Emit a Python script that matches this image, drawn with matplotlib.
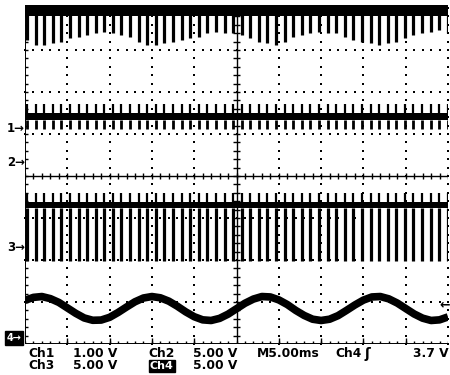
import matplotlib
matplotlib.use('Agg')
import matplotlib.pyplot as plt
import numpy as np

plt.rcParams['font.family'] = ['DejaVu Sans']

# screen is 10 div x 5.00 ms wide, 8 div high; values below are in ms / div
SPIKE_T0 = 0.24
SPIKE_PERIOD = 1.015

# bottom of each downward spike on the top trace (div)
TOP_DEPTH = [7.24, 7.12, 7.12, 7.17, 7.19, 7.29, 7.31, 7.36, 7.40, 7.43,
             7.40, 7.36, 7.31, 7.19, 7.12, 7.12, 7.17, 7.19, 7.24, 7.29,
             7.31, 7.40, 7.43, 7.40, 7.40, 7.36, 7.29, 7.19, 7.17, 7.12,
             7.19, 7.31, 7.36, 7.40, 7.43, 7.40, 7.40, 7.31, 7.24, 7.19,
             7.17, 7.12, 7.17, 7.19, 7.29, 7.36, 7.40, 7.43, 7.48, 7.40]
TOP_BAND = (7.82, 8.07)

# Ch1 trace: band with short spikes up and down
CH1_BAND = (5.33, 5.50)
CH1_UP = 5.71
CH1_DOWN = 5.12

# Ch3 trace: band with short spikes up and long spikes down
CH3_BAND = (3.24, 3.38)
CH3_UP = 3.60
CH3_DOWN = 1.98

# Ch4 sine, read every 1 ms
CH4_T = list(range(0, 51))
CH4_Y = [1.04, 1.11, 1.13, 1.08, 0.99, 0.86, 0.73, 0.62, 0.565, 0.57,
         0.635, 0.75, 0.88, 1.005, 1.095, 1.13, 1.10, 1.02, 0.90, 0.765,
         0.65, 0.575, 0.56, 0.61, 0.71, 0.84, 0.97, 1.07, 1.13, 1.12,
         1.05, 0.94, 0.80, 0.68, 0.59, 0.56, 0.59, 0.675, 0.80, 0.93,
         1.045, 1.12, 1.13, 1.075, 0.975, 0.845, 0.715, 0.615, 0.56, 0.575,
         0.645]

GROUND_LABELS = ['1', '2', '3']
GROUND_LEVELS = [5.14, 4.33, 2.29]
CH4_GROUND = 0.14
TRIGGER_LEVEL = 0.93

W, H = 450, 375
fig = plt.figure(figsize=(W / 100, H / 100), dpi=100)
fig.patch.set_facecolor('white')
ax = fig.add_axes([25 / W, 1 - 344 / H, 423 / W, 336 / H])
ax.set_xlim(0, 50)
ax.set_ylim(0, 8)
ax.axis('off')

# graticule
dots_x = np.arange(0, 50.01, 1.0)
dots_y = np.arange(0, 8.01, 0.2)
for gx in [5, 10, 15, 20, 30, 35, 40, 45, 50]:
    ax.plot(np.full_like(dots_y, gx), dots_y, ls='none', marker='s', ms=1.5,
            mew=0, color='k', clip_on=False)
for gy in [1, 2, 3, 5, 6, 7]:
    ax.plot(dots_x, np.full_like(dots_x, gy), ls='none', marker='s', ms=1.5,
            mew=0, color='k', clip_on=False)
ax.axhline(4, color='k', lw=1.0)
ax.axvline(25, color='k', lw=1.0)
ax.vlines(dots_x, 4 - 0.07, 4 + 0.07, color='k', lw=1.0)
ax.hlines(dots_y, 25 - 0.4, 25 + 0.4, color='k', lw=1.0)
# border with ticks
ax.axvline(0, color='k', lw=1.4)
ax.axhline(0, color='k', lw=1.4)
ax.hlines(dots_y, 0, 0.35, color='k', lw=1.0)
ax.vlines(dots_x, 0, 0.07, color='k', lw=1.0)
ax.vlines([5, 10, 15, 20, 30, 35, 40, 45], 0, 0.14, color='k', lw=1.0)

spike_t = SPIKE_T0 + SPIKE_PERIOD * np.arange(len(TOP_DEPTH))

# top trace
ax.fill_between([0, 50], TOP_BAND[0], TOP_BAND[1], color='k', lw=0, clip_on=False)
ax.vlines(spike_t, TOP_DEPTH, TOP_BAND[0] + 0.02, color='k', lw=2.3)

# Ch1
ax.fill_between([0, 50], CH1_BAND[0], CH1_BAND[1], color='k', lw=0)
ax.vlines(spike_t, CH1_BAND[1], CH1_UP, color='k', lw=1.6)
ax.vlines(spike_t, CH1_DOWN, CH1_BAND[0], color='k', lw=2.0)

# Ch3
ax.fill_between([0, 50], CH3_BAND[0], CH3_BAND[1], color='k', lw=0)
ax.vlines(spike_t, CH3_BAND[1], CH3_UP, color='k', lw=1.6)
ax.vlines(spike_t, CH3_DOWN, CH3_BAND[0], color='k', lw=2.3)

# Ch4
ax.plot(CH4_T, CH4_Y, color='k', lw=5.5, solid_capstyle='butt')

# ground / trigger markers
ytr = ax.get_yaxis_transform()
for lab, lev in zip(GROUND_LABELS, GROUND_LEVELS):
    ax.text(0, lev, lab + '\u2192', transform=ytr, ha='right', va='center',
            fontsize=8.5, fontweight='bold', clip_on=False)
ax.text(-0.008, CH4_GROUND, '4\u2192', transform=ytr, ha='right', va='center',
        fontsize=7, fontweight='bold', color='white', clip_on=False,
        bbox=dict(facecolor='black', edgecolor='black', pad=1.2))
ax.text(1.005, TRIGGER_LEVEL, '\u2190', transform=ytr, ha='right', va='center',
        fontsize=9, fontweight='bold', clip_on=False)

# readout
row1 = [(28, 'Ch1'), (73, '1.00 V'), (148, 'Ch2'), (193, '5.00 V'),
        (257, 'M5.00ms'), (335, 'Ch4'), (413, '3.7 V')]
row2 = [(28, 'Ch3'), (73, '5.00 V'), (193, '5.00 V')]
for x, s in row1:
    fig.text(x / W, 1 - 357 / H, s, ha='left', va='baseline', fontsize=8.8,
             fontweight='bold')
for x, s in row2:
    fig.text(x / W, 1 - 369 / H, s, ha='left', va='baseline', fontsize=8.8,
             fontweight='bold')
fig.text(150 / W, 1 - 369 / H, 'Ch4', ha='left', va='baseline', fontsize=8,
         fontweight='bold', color='white',
         bbox=dict(facecolor='black', edgecolor='black', pad=0.8))
fig.text(364 / W, 1 - 358 / H, '\u0283', ha='left', va='baseline', fontsize=10,
         fontweight='bold')

fig.savefig('out.png', dpi=100, facecolor='white')
